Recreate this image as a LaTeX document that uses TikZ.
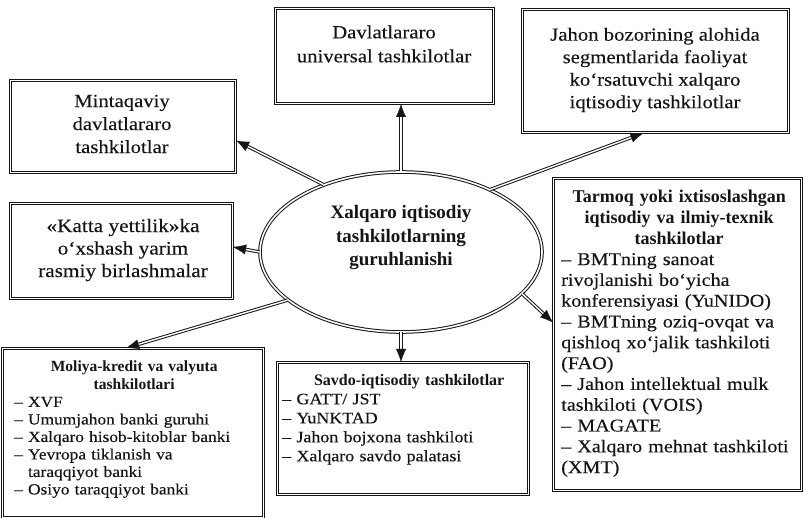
\documentclass[tikz,border=0pt]{standalone}
\usepackage{fontspec}
\setmainfont{Liberation Serif}
\newfontfamily\rfont[FakeStretch=1.12,FakeBold=0.2]{Liberation Serif}
\usetikzlibrary{shapes.geometric,arrows.meta}
\definecolor{ink}{HTML}{151515}
\tikzset{
  box/.style={draw=ink, double=white, double distance=1.6pt, line width=1pt, inner sep=0pt},
  conn/.style={draw=white, line width=0.2pt, -{Latex[length=13pt,width=10pt,color=ink]},
    preaction={draw=ink, line width=3.4pt, -, shorten >=10pt},
    preaction={draw=white, line width=1.4pt, -, shorten >=10pt}},
  txt/.style={text=ink, inner sep=0pt, align=center},
}
\begin{document}
\begin{tikzpicture}[x=1pt,y=-1pt]
\fill[white] (0,0) rectangle (803,518);
\useasboundingbox (0,0) rectangle (803,518);

\coordinate (c) at (401,252);

% boxes
\node[box, minimum width=225pt, minimum height=92pt, anchor=north west] (mint) at (10,80) {};
\node[box, minimum width=222pt, minimum height=95pt, anchor=north west] (katta) at (10,203) {};
\node[box, minimum width=218pt, minimum height=95pt, anchor=north west] (davl) at (275,8) {};
\node[box, minimum width=266pt, minimum height=123pt, anchor=north west] (jahon) at (522,9) {};
\node[box, minimum width=248pt, minimum height=312pt, anchor=north west] (tarm) at (553,178) {};
\node[box, minimum width=261pt, minimum height=169pt, anchor=north west] (moli) at (2,348) {};
\node[box, minimum width=251pt, minimum height=132pt, anchor=north west] (savdo) at (277,362) {};
\node[box, ellipse, minimum width=282pt, minimum height=160pt] (ell) at (c) {};

% connectors
\draw[conn] (ell.north) -- (ell.north |- davl.south);
\draw[conn] (ell.139) -- ([yshift=-14pt]mint.east);
\draw[conn] (ell.west) -- ([yshift=4pt]katta.east);
\draw[conn] (ell.203) -- ([xshift=-7pt]moli.north);
\draw[conn] (ell.south) -- (ell.south |- savdo.north);
\draw[conn] (ell.341) -- ([yshift=12pt]tarm.west);
\draw[conn] (ell.35) -- ([xshift=-12pt]jahon.south);

% texts
\node[txt, font={\rfont\fontsize{18.5}{23}\selectfont}] (mintT) at (122,124) {Mintaqaviy\\davlatlararo\\tashkilotlar};
\node[txt, font={\rfont\fontsize{19}{22.5}\selectfont}] (kattaT) at (123,250) {«Katta yettilik»ka\\o‘xshash yarim\\rasmiy birlashmalar};
\node[txt, font={\rfont\fontsize{18.5}{24}\selectfont}] (davlT) at (384,44) {Davlatlararo\\universal tashkilotlar};
\node[txt, font={\rfont\fontsize{18.5}{22.5}\selectfont}] (jahonT) at (655,70) {Jahon bozorining alohida\\segmentlarida faoliyat\\ko‘rsatuvchi xalqaro\\iqtisodiy tashkilotlar};
\node[txt, font={\bfseries\fontsize{19}{23.5}\selectfont}] (ellT) at (401,238) {Xalqaro iqtisodiy\\tashkilotlarning\\guruhlanishi};

\node[txt, anchor=north west, text width=236pt, align=left, font={\fontsize{18}{20.8}\selectfont}] (tarmT) at (561,190)
{{\centering\bfseries Tarmoq yoki ixtisoslashgan\\iqtisodiy va ilmiy-texnik\\tashkilotlar\par}\rfont
– BMTning sanoat\\rivojlanishi bo‘yicha\\konferensiyasi (YuNIDO)\\– BMTning oziq-ovqat va\\qishloq xo‘jalik tashkiloti\\(FAO)\\– Jahon intellektual mulk\\tashkiloti (VOIS)\\– MAGATE\\– Xalqaro mehnat tashkiloti\\(XMT)};

\node[txt, anchor=north west, text width=240pt, align=left, font={\fontsize{15.5}{17.5}\selectfont}] (moliT) at (14,361)
{{\centering\bfseries Moliya-kredit va valyuta\\tashkilotlari\par}\rfont
– XVF\\– Umumjahon banki guruhi\\– Xalqaro hisob-kitoblar banki\\– Yevropa tiklanish va\\\phantom{– }taraqqiyot banki\\– Osiyo taraqqiyot banki};

\node[txt, anchor=north west, text width=240pt, align=left, font={\fontsize{16}{19}\selectfont}] (savdT) at (282,374)
{{\centering\bfseries\hspace*{14pt}Savdo-iqtisodiy tashkilotlar\par}\rfont
– GATT/ JST\\– YuNKTAD\\– Jahon bojxona tashkiloti\\– Xalqaro savdo palatasi};
\end{tikzpicture}
\end{document}
